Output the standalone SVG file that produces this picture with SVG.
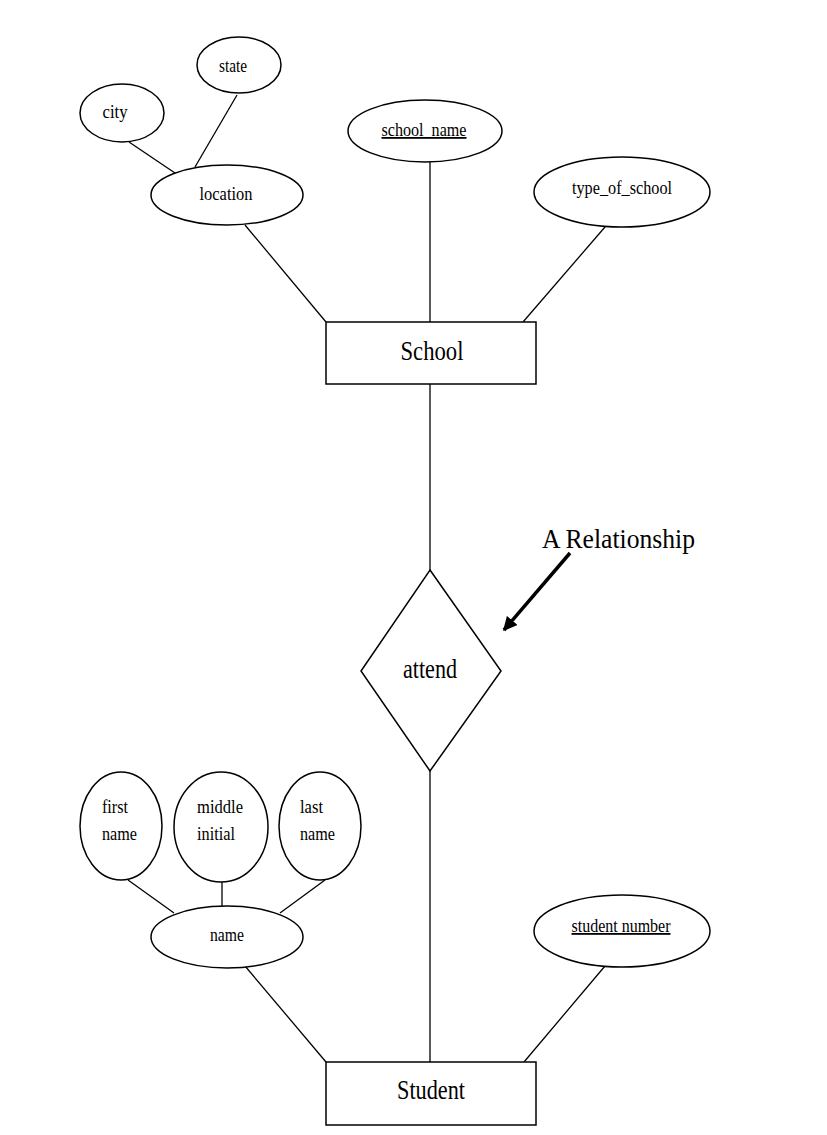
<svg xmlns="http://www.w3.org/2000/svg" width="827" height="1135" viewBox="0 0 827 1135">
<style>
.sh{fill:#fff;stroke:#000;stroke-width:1.5}
.ln{stroke:#000;stroke-width:1.3;fill:none}
.t{font-family:"Liberation Serif","Times New Roman",serif;fill:#000;font-size:18px}
.tb{font-family:"Liberation Serif","Times New Roman",serif;fill:#000;font-size:28px}
.c{text-anchor:middle}
</style>
<defs>
<marker id="ah" viewBox="0 0 10 10" refX="9" refY="5" markerWidth="4" markerHeight="4" orient="auto" markerUnits="strokeWidth">
<path d="M0,0 L10,5 L0,10 z" fill="#000"/>
</marker>
</defs>
<rect width="827" height="1135" fill="#fff"/>
<g id="connectors">
<line class="ln" x1="129" y1="142" x2="175" y2="173"/>
<line class="ln" x1="237" y1="95" x2="195" y2="167"/>
<line class="ln" x1="245" y1="225" x2="326" y2="322"/>
<line class="ln" x1="430" y1="162" x2="430" y2="322"/>
<line class="ln" x1="605" y1="227" x2="523" y2="322"/>
<line class="ln" x1="430" y1="384" x2="430" y2="570"/>
<line class="ln" x1="430" y1="771" x2="430" y2="1062"/>
<line class="ln" x1="128" y1="880" x2="174" y2="913"/>
<line class="ln" x1="222" y1="882" x2="222" y2="907"/>
<line class="ln" x1="325" y1="880" x2="280" y2="913"/>
<line class="ln" x1="245" y1="966" x2="326" y2="1062"/>
<line class="ln" x1="605" y1="966" x2="524" y2="1062"/>
<line x1="570" y1="553" x2="504" y2="630" stroke="#000" stroke-width="3.5" marker-end="url(#ah)"/>
</g>
<g id="state">
<ellipse class="sh" cx="239" cy="65" rx="42" ry="28"/>
<text class="t c" x="233" y="72" textLength="28" lengthAdjust="spacingAndGlyphs">state</text>
</g>
<g id="city">
<ellipse class="sh" cx="122" cy="113" rx="42" ry="29"/>
<text class="t c" x="115" y="118" textLength="25" lengthAdjust="spacingAndGlyphs">city</text>
</g>
<g id="location">
<ellipse class="sh" cx="227" cy="195" rx="76" ry="30"/>
<text class="t c" x="226" y="200" textLength="53" lengthAdjust="spacingAndGlyphs">location</text>
</g>
<g id="school_name">
<ellipse class="sh" cx="425" cy="131" rx="77" ry="31"/>
<text class="t c" x="424" y="136" textLength="85" lengthAdjust="spacingAndGlyphs" text-decoration="underline">school_name</text>
</g>
<g id="type_of_school">
<ellipse class="sh" cx="622" cy="192" rx="88" ry="35"/>
<text class="t c" x="622" y="194" textLength="100" lengthAdjust="spacingAndGlyphs">type_of_school</text>
</g>
<g id="School">
<rect class="sh" x="326" y="322" width="210" height="62"/>
<text class="tb c" x="432" y="360" textLength="63" lengthAdjust="spacingAndGlyphs">School</text>
</g>
<g id="attend">
<polygon class="sh" points="430,570 501,671 430,771 361,671"/>
<text class="tb c" x="430" y="678" textLength="54" lengthAdjust="spacingAndGlyphs">attend</text>
</g>
<g id="relationship_label">
<text class="tb" x="542" y="548" textLength="153" lengthAdjust="spacingAndGlyphs">A Relationship</text>
</g>
<g id="first_name">
<ellipse class="sh" cx="121" cy="826" rx="41" ry="54"/>
<text class="t" x="102" y="813" textLength="26" lengthAdjust="spacingAndGlyphs">first</text>
<text class="t" x="102" y="840" textLength="35" lengthAdjust="spacingAndGlyphs">name</text>
</g>
<g id="middle_initial">
<ellipse class="sh" cx="221" cy="827" rx="47" ry="55"/>
<text class="t" x="197" y="813" textLength="46" lengthAdjust="spacingAndGlyphs">middle</text>
<text class="t" x="197" y="840" textLength="38" lengthAdjust="spacingAndGlyphs">initial</text>
</g>
<g id="last_name">
<ellipse class="sh" cx="320" cy="826" rx="41" ry="54"/>
<text class="t" x="300" y="813" textLength="23" lengthAdjust="spacingAndGlyphs">last</text>
<text class="t" x="300" y="840" textLength="35" lengthAdjust="spacingAndGlyphs">name</text>
</g>
<g id="name">
<ellipse class="sh" cx="227" cy="937" rx="76" ry="31"/>
<text class="t c" x="227" y="941" textLength="34" lengthAdjust="spacingAndGlyphs">name</text>
</g>
<g id="student_number">
<ellipse class="sh" cx="622" cy="931" rx="88" ry="36"/>
<text class="t c" x="621" y="932" textLength="99" lengthAdjust="spacingAndGlyphs" text-decoration="underline">student number</text>
</g>
<g id="Student">
<rect class="sh" x="326" y="1062" width="210" height="63"/>
<text class="tb c" x="431" y="1099" textLength="68" lengthAdjust="spacingAndGlyphs">Student</text>
</g>
</svg>
